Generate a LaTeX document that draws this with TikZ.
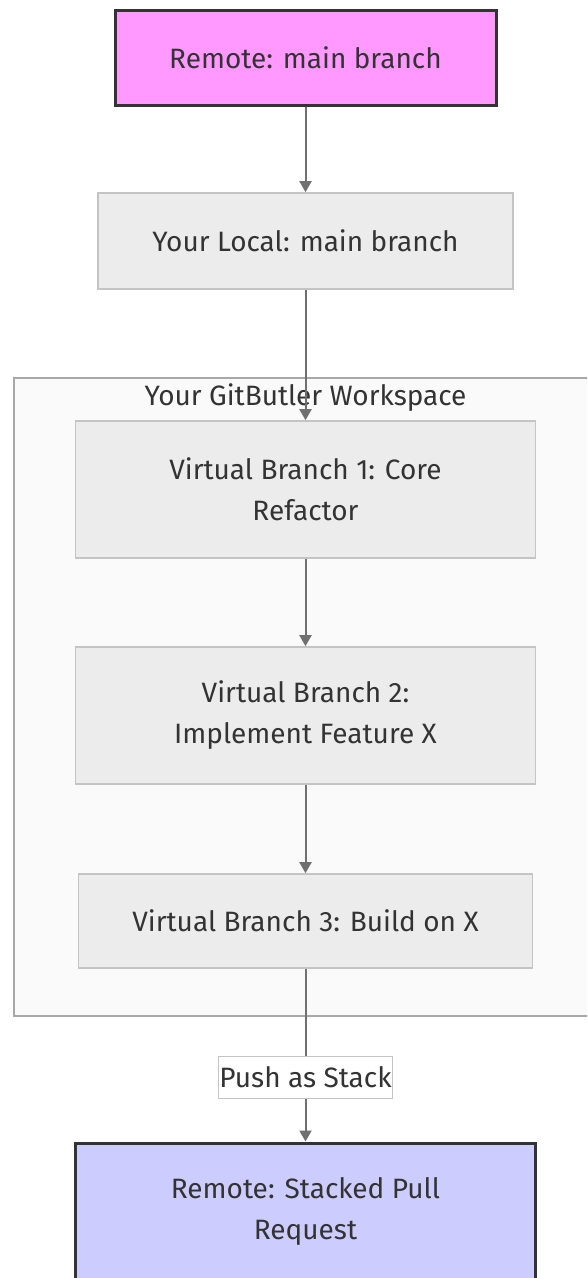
\documentclass[tikz,border=0pt]{standalone}
\usepackage{fontspec}
\setmainfont{Fira Sans}
\usetikzlibrary{arrows.meta}

\definecolor{remotepink}{HTML}{FF99FF}
\definecolor{remoteblue}{HTML}{CCCCFF}
\definecolor{boxgray}{HTML}{ECECEC}
\definecolor{boxline}{HTML}{C4C4C4}
\definecolor{clusterfill}{HTML}{FAFAFA}
\definecolor{clusterline}{HTML}{A8A8A8}
\definecolor{edgegray}{HTML}{707070}
\definecolor{inkdark}{HTML}{333333}

\tikzset{
    basebox/.style={rectangle, align=center, text=inkdark,
        font=\fontsize{28}{41}\selectfont, inner sep=0pt},
    remotebox/.style={basebox, fill=#1, draw=inkdark, line width=3pt},
    branchbox/.style={basebox, fill=boxgray, draw=boxline, line width=1.6pt},
    cluster/.style={rectangle, fill=clusterfill, draw=clusterline,
        line width=2pt, inner sep=0pt},
    flow/.style={draw=edgegray, line width=2pt,
        -{Triangle[width=12pt,length=11pt]}},
    edgelabel/.style={basebox, fill=white, draw=boxline, line width=1pt,
        minimum width=174, minimum height=42}
}

\begin{document}
\begin{tikzpicture}[x=1pt, y=-1pt]

    % Page frame (in pixels of the reference)
    \def\pageW{587}
    \def\pageH{1278}
    \def\midX{305.5}

    \clip (0,0) rectangle (\pageW,\pageH);
    \fill[white] (0,0) rectangle (\pageW,\pageH);

    % Workspace group
    \node[cluster, anchor=north west, minimum width=600, minimum height=638]
        (workspace) at (13,377) {};
    \node[text=inkdark, font=\fontsize{28}{32}\selectfont]
        (wslabel) at (\midX,398) {Your GitButler Workspace};

    % Boxes, top to bottom
    \node[remotebox=remotepink, minimum width=381, minimum height=95]
        (remotemain) at (\midX,57.5) {Remote: main branch};
    \node[branchbox, minimum width=415, minimum height=96]
        (localmain) at (\midX,241) {Your Local: main branch};
    \node[branchbox, minimum width=460, minimum height=137]
        (vbone) at (\midX,489.5) {Virtual Branch 1: Core\\Refactor};
    \node[branchbox, minimum width=460, minimum height=137]
        (vbtwo) at (\midX,715.5) {Virtual Branch 2:\\Implement Feature X};
    \node[branchbox, minimum width=454, minimum height=94]
        (vbthree) at (\midX,921) {Virtual Branch 3: Build on X};
    \node[remotebox=remoteblue, minimum width=460, minimum height=137]
        (stackedpr) at (\midX,1211.5) {Remote: Stacked Pull\\Request};

    % Arrows
    \draw[flow] (remotemain) -- (localmain);
    \draw[flow] (localmain) -- (vbone);
    \draw[flow] (vbone) -- (vbtwo);
    \draw[flow] (vbtwo) -- (vbthree);
    \draw[flow] (vbthree) -- node[edgelabel, pos=0.63] (pushlabel) {Push as Stack} (stackedpr);

\end{tikzpicture}
\end{document}
